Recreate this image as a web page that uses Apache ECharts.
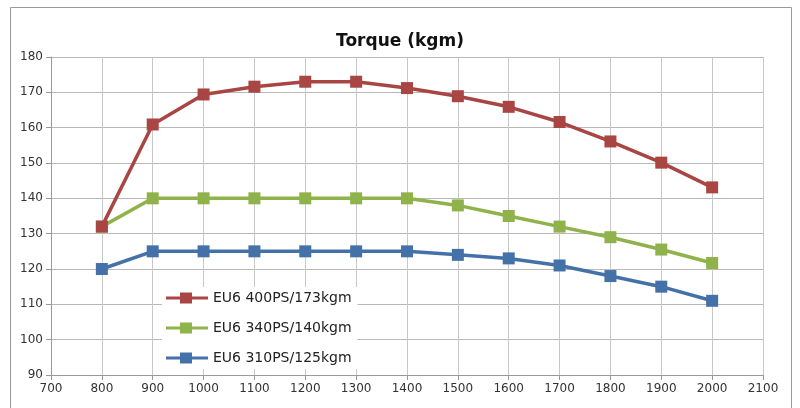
<!DOCTYPE html>
<html><head><meta charset="utf-8">
<script src="https://cdn.jsdelivr.net/npm/echarts@6/dist/echarts.min.js"></script>
<style>html,body{margin:0;padding:0;background:#fff}#c{width:800px;height:408px}</style>
</head><body><div id="c"></div>
<script>
const rpm = [800, 900, 1000, 1100, 1200, 1300, 1400, 1500, 1600, 1700, 1800, 1900, 2000];
const s400 = [132, 160.9, 169.4, 171.6, 173, 173, 171.2, 168.9, 165.9, 161.6, 156.1, 150.1, 143.1];
const s340 = [132, 140, 140, 140, 140, 140, 140, 138, 135, 132, 129, 125.5, 121.7];
const s310 = [120, 125, 125, 125, 125, 125, 125, 124, 123, 121, 118, 115, 111];
const names = ['EU6 400PS/173kgm', 'EU6 340PS/140kgm', 'EU6 310PS/125kgm'];
const colors = ['#A94542', '#8FB24B', '#4472A8'];
const font = '"DejaVu Sans", "Noto Sans", sans-serif';
function mk(i, vals){
  return {name: names[i], type: 'line', data: rpm.map((x,k)=>[x, vals[k]]),
    symbol: 'rect', symbolSize: 12, lineStyle:{width:3.5,color:colors[i]},
    itemStyle:{color:colors[i]}, z: 3 - i};
}
const chart = echarts.init(document.getElementById('c'));
chart.setOption({
  animation: false,
  title: {text: 'Torque (kgm)', left: 'center', top: 28, textStyle:{fontFamily: font, fontSize: 17, fontWeight: 'bold', color:'#111'}},
  graphic: [{type:'rect', shape:{x:10.5, y:7.5, width:781, height:410}, style:{fill:'none', stroke:'#999', lineWidth:1}, silent:true}],
  grid: {left: 51, right: 37, top: 57, bottom: 33},
  legend: {orient:'vertical', left: 162, top: 287, itemWidth: 42, itemHeight: 12, itemGap: 16,
    backgroundColor:'#fff', padding:[4,6,4,4],
    textStyle:{fontFamily: font, fontSize: 14, color:'#222'},
    data: names.map((n,i)=>({name:n, icon:'path://M0,5 L14,5 L14,1 L26,1 L26,5 L42,5 L42,8 L26,8 L26,12 L14,12 L14,8 L0,8 Z'}))},
  xAxis: {type:'value', min:700, max:2100, interval:100,
    axisLine:{show:true, lineStyle:{color:'#999'}}, axisTick:{show:true, length:5, lineStyle:{color:'#999'}},
    splitLine:{show:true, lineStyle:{color:'#c8c8c8'}},
    axisLabel:{fontFamily: font, fontSize: 12, color:'#333', margin: 8, formatter: v => String(v)}},
  yAxis: {type:'value', min:90, max:180, interval:10,
    axisLine:{show:true, lineStyle:{color:'#999'}}, axisTick:{show:true, length:5, lineStyle:{color:'#999'}},
    splitLine:{show:true, lineStyle:{color:'#b8b8b8'}},
    axisLabel:{fontFamily: font, fontSize: 12, color:'#333', margin: 8, formatter: v => String(v)}},
  series: [mk(0, s400), mk(1, s340), mk(2, s310)]
});
</script></body></html>
